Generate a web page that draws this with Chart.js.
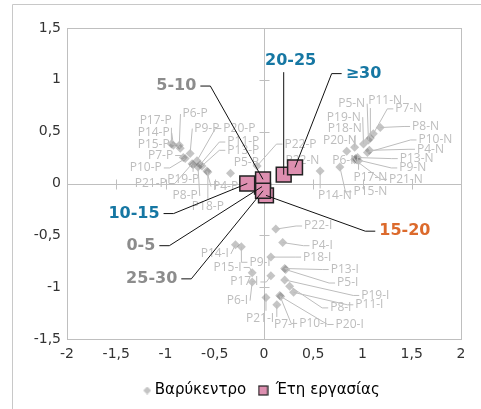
<!DOCTYPE html>
<html>
<head>
<meta charset="utf-8">
<script src="https://cdn.jsdelivr.net/npm/chart.js@4.4.1/dist/chart.umd.min.js"></script>
<style>
  html, body { margin: 0; padding: 0; background: #fff; }
</style>
</head>
<body>
<canvas id="chart" width="481" height="409"></canvas>
<script>
// ---------- data ----------
const centroidNames = [
  'P17-P','P14-P','P15-P','P6-P','P7-P','P10-P','P9-P','P21-P','P19-P','P20-P','P11-P','P13-P','P8-P','P4-P','P18-P','P5-P','P22-P',
  'P8-N','P7-N','P11-N','P5-N','P19-N','P18-N','P20-N','P10-N','P4-N','P6-N','P13-N','P9-N','P17-N','P21-N','P15-N','P14-N','P22-N',
  'P22-I','P4-I','P18-I','P13-I','P5-I','P19-I','P8-I','P11-I','P10-I','P20-I','P7-I','P21-I','P17-I','P15-I','P6-I','P14-I','P9-I'
];
const centroidX = [
  -0.94,-0.92,-0.85,-0.86,-0.82,-0.80,-0.75,-0.73,-0.72,-0.68,-0.65,-0.63,-0.67,-0.58,-0.57,-0.34,-0.07,
  1.18,1.11,1.08,1.06,1.01,0.92,0.84,1.05,1.07,0.93,0.95,0.94,0.96,0.92,0.77,0.57,0.25,
  0.12,0.19,0.07,0.21,0.22,0.21,0.26,0.30,0.16,0.17,0.13,0.02,0.07,-0.12,-0.12,-0.29,-0.23
];
const centroidY = [
  0.38,0.37,0.34,0.37,0.25,0.24,0.29,0.19,0.18,0.22,0.18,0.17,0.16,0.12,0.11,0.10,0.17,
  0.54,0.48,0.44,0.42,0.38,0.35,0.31,0.30,0.32,0.24,0.25,0.23,0.22,0.23,0.16,0.12,0.12,
  -0.44,-0.57,-0.71,-0.82,-0.83,-0.93,-0.99,-1.05,-1.08,-1.09,-1.17,-1.10,-0.89,-0.86,-0.95,-0.59,-0.61
];

const yearGroups = ['0-5','5-10','10-15','15-20','20-25','25-30','≥30'];
const yearsX = [-0.02,-0.01,-0.17,0.02,0.20,-0.01,0.315];
const yearsY = [-0.03,0.04,0.00,-0.115,0.085,-0.07,0.155];

const xTickValues = [-2,-1.5,-1,-0.5,0,0.5,1,1.5,2];
const yTickValues = [-1.5,-1,-0.5,0,0.5,1,1.5];

// label placement (in axis units), kept apart from the values
const centroidLabelX = [
  -1.10,-1.12,-1.12,-0.70,-1.05,-1.20,-0.58,-1.15,-0.82,-0.25,-0.21,-0.21,-0.80,-0.39,-0.57,-0.18,0.37,
  1.64,1.47,1.23,0.89,0.81,0.82,0.77,1.74,1.69,0.83,1.55,1.51,1.08,1.44,1.08,0.72,0.39,
  0.55,0.59,0.54,0.82,0.85,1.13,0.78,1.07,0.50,0.87,0.21,-0.04,-0.20,-0.37,-0.27,-0.50,-0.04
];
const centroidLabelY = [
  0.61,0.49,0.38,0.67,0.27,0.15,0.53,0.00,0.04,0.53,0.40,0.32,-0.12,-0.03,-0.22,0.20,0.38,
  0.55,0.72,0.80,0.77,0.64,0.53,0.41,0.42,0.33,0.22,0.24,0.15,0.06,0.04,-0.08,-0.12,0.22,
  -0.41,-0.60,-0.71,-0.83,-0.96,-1.08,-1.20,-1.17,-1.35,-1.36,-1.36,-1.30,-0.95,-0.81,-1.13,-0.68,-0.76
];
const groupLabelX = [-1.25,-0.89,-1.32,1.43,0.27,-1.14,1.01];
const groupLabelY = [-0.60,0.94,-0.29,-0.46,1.18,-0.92,1.06];
const groupColors = ['#8c8c8c','#8c8c8c','#1677a3','#dc6a2c','#1677a3','#8c8c8c','#1677a3'];

const PINK = '#dd8fb0';
const fmt = v => String(v).replace('.', ',');

// legend icons
function makeIcon(kind) {
  const c = document.createElement('canvas');
  const g = c.getContext('2d');
  if (kind === 'diamond') {
    // diamond drawn on the right half so it sits closer to its text
    c.width = 18; c.height = 8;
    g.fillStyle = '#c4c4c4';
    g.beginPath(); g.moveTo(14, 0); g.lineTo(18, 4); g.lineTo(14, 8); g.lineTo(10, 4); g.closePath(); g.fill();
  } else {
    c.width = 11; c.height = 11;
    g.fillStyle = PINK; g.fillRect(1, 1, 9, 9);
    g.strokeStyle = '#222'; g.lineWidth = 1.2; g.strokeRect(1, 1, 9, 9);
  }
  return c;
}
const legendIcons = [makeIcon('diamond'), makeIcon('square')];

function leader(ctx, cx, cy, w, h, px, py, gap, run) {
  const l = cx - w / 2, r = cx + w / 2, t = cy - h / 2, b = cy + h / 2;
  ctx.beginPath();
  if (px > r) {
    ctx.moveTo(r + gap, cy);
    if (px > r + gap + run) ctx.lineTo(r + gap + run, cy);
  } else if (px < l) {
    ctx.moveTo(l - gap, cy);
    if (px < l - gap - run) ctx.lineTo(l - gap - run, cy);
  } else if (py > b) {
    ctx.moveTo(px, b + gap);
  } else {
    ctx.moveTo(px, t - gap);
  }
  ctx.lineTo(px, py);
  ctx.stroke();
}

const frame = {
  id: 'frame',
  afterLayout(chart) {
    // legend sits a bit right of centre in the original
    const lg = chart.legend;
    lg.left += 28; lg.right += 28;
    lg.top += 2; lg.bottom += 2;
  },
  beforeDraw(chart) {
    const ctx = chart.ctx;
    ctx.save();
    ctx.strokeStyle = '#c8c8c8';
    ctx.lineWidth = 1;
    ctx.beginPath();
    ctx.moveTo(12.5, chart.height); ctx.lineTo(12.5, 4.5); ctx.lineTo(chart.width, 4.5);
    ctx.stroke();
    ctx.restore();
  },
  beforeDatasetsDraw(chart) {
    const {ctx, chartArea: a, scales: {x, y}} = chart;
    const x0 = Math.round(x.getPixelForValue(0)) + 0.5;
    const y0 = Math.round(y.getPixelForValue(0)) + 0.5;
    ctx.save();
    ctx.strokeStyle = '#bfbfbf';
    ctx.lineWidth = 1;
    ctx.strokeRect(Math.round(a.left) + 0.5, Math.round(a.top) + 0.5, Math.round(a.width), Math.round(a.height));
    ctx.beginPath();
    ctx.moveTo(a.left, y0); ctx.lineTo(a.right, y0);
    ctx.moveTo(x0, a.top); ctx.lineTo(x0, a.bottom);
    xTickValues.forEach(v => {
      const p = Math.round(x.getPixelForValue(v)) + 0.5;
      ctx.moveTo(p, y0 - 5); ctx.lineTo(p, y0 + 5);
    });
    yTickValues.forEach(v => {
      const p = Math.round(y.getPixelForValue(v)) + 0.5;
      ctx.moveTo(x0 - 5, p); ctx.lineTo(x0 + 5, p);
    });
    ctx.stroke();
    ctx.restore();
  },
  afterDatasetDraw(chart, args) {
    if (args.index !== 0) return;
    const {ctx, scales: {x, y}} = chart;
    ctx.save();
    ctx.font = '12px "Open Sans"';
    ctx.textAlign = 'center';
    ctx.textBaseline = 'middle';
    ctx.strokeStyle = '#bdbdbd';
    ctx.lineWidth = 1;
    centroidNames.forEach((name, i) => {
      const px = x.getPixelForValue(centroidX[i]), py = y.getPixelForValue(centroidY[i]);
      const cx = x.getPixelForValue(centroidLabelX[i]), cy = y.getPixelForValue(centroidLabelY[i]);
      const w = ctx.measureText(name).width, h = 11;
      const dx = Math.max(cx - w / 2 - px, 0, px - cx - w / 2);
      const dy = Math.max(cy - h / 2 - py, 0, py - cy - h / 2);
      if (Math.hypot(dx, dy) > 7) leader(ctx, cx, cy, w, h, px, py, 2, 6);
    });
    ctx.fillStyle = '#bdbdbd';
    centroidNames.forEach((name, i) => {
      ctx.fillText(name, x.getPixelForValue(centroidLabelX[i]), y.getPixelForValue(centroidLabelY[i]));
    });
    ctx.restore();
  },
  afterDatasetsDraw(chart) {
    const {ctx, scales: {x, y}} = chart;
    ctx.save();
    ctx.font = 'bold 16px "DejaVu Sans"';
    ctx.textAlign = 'center';
    ctx.textBaseline = 'middle';
    ctx.strokeStyle = '#111';
    ctx.lineWidth = 1;
    yearGroups.forEach((g, i) => {
      const px = x.getPixelForValue(yearsX[i]), py = y.getPixelForValue(yearsY[i]);
      const cx = x.getPixelForValue(groupLabelX[i]), cy = y.getPixelForValue(groupLabelY[i]);
      const w = ctx.measureText(g).width;
      leader(ctx, cx, cy, w, 14, px, py, 4, 10);
      ctx.fillStyle = groupColors[i];
      ctx.fillText(g, cx, cy);
    });
    ctx.restore();
  }
};

const ctx = document.getElementById('chart').getContext('2d');
new Chart(ctx, {
  type: 'scatter',
  data: {
    datasets: [{
      label: 'Βαρύκεντρο',
      data: centroidX.map((v, i) => ({x: v, y: centroidY[i]})),
      pointStyle: 'rectRot',
      pointRadius: 4.5,
      pointHoverRadius: 4.5,
      backgroundColor: 'rgba(110,110,110,0.4)',
      borderWidth: 0,
      order: 2
    }, {
      label: 'Έτη εργασίας',
      data: yearsX.map((v, i) => ({x: v, y: yearsY[i]})),
      pointStyle: 'rect',
      pointRadius: 10.5,
      pointHoverRadius: 10.5,
      backgroundColor: PINK,
      borderColor: '#222',
      borderWidth: 1.5,
      order: 1
    }]
  },
  options: {
    responsive: false,
    animation: false,
    layout: { padding: { left: 0, top: 28, right: 20, bottom: 3 } },
    scales: {
      x: {
        type: 'linear', min: -2, max: 2,
        afterBuildTicks: s => { s.ticks = xTickValues.map(v => ({value: v})); },
        afterFit: s => { s.height = 30; },
        ticks: { callback: v => fmt(v), color: '#333', font: {family: 'DejaVu Sans', size: 14}, padding: 7, maxRotation: 0, autoSkip: false },
        grid: { display: false, drawTicks: false },
        border: { display: false }
      },
      y: {
        type: 'linear', min: -1.5, max: 1.5,
        afterBuildTicks: s => { s.ticks = yTickValues.map(v => ({value: v})); },
        afterFit: s => { s.width = 67; },
        ticks: { callback: v => fmt(v), color: '#333', font: {family: 'DejaVu Sans', size: 14}, padding: 6, autoSkip: false },
        grid: { display: false, drawTicks: false },
        border: { display: false }
      }
    },
    plugins: {
      tooltip: { enabled: false },
      legend: {
        position: 'bottom',
        labels: {
          usePointStyle: true,
          boxWidth: 10,
          boxHeight: 10,
          padding: 12,
          color: '#333',
          font: {family: 'DejaVu Sans', size: 15},
          generateLabels: chart => chart.data.datasets.map((ds, i) => ({
            text: ds.label,
            pointStyle: legendIcons[i],
            fillStyle: 'transparent',
            strokeStyle: 'transparent',
            lineWidth: 0,
            hidden: false,
            datasetIndex: i
          }))
        }
      }
    }
  },
  plugins: [frame]
});
</script>
</body>
</html>
